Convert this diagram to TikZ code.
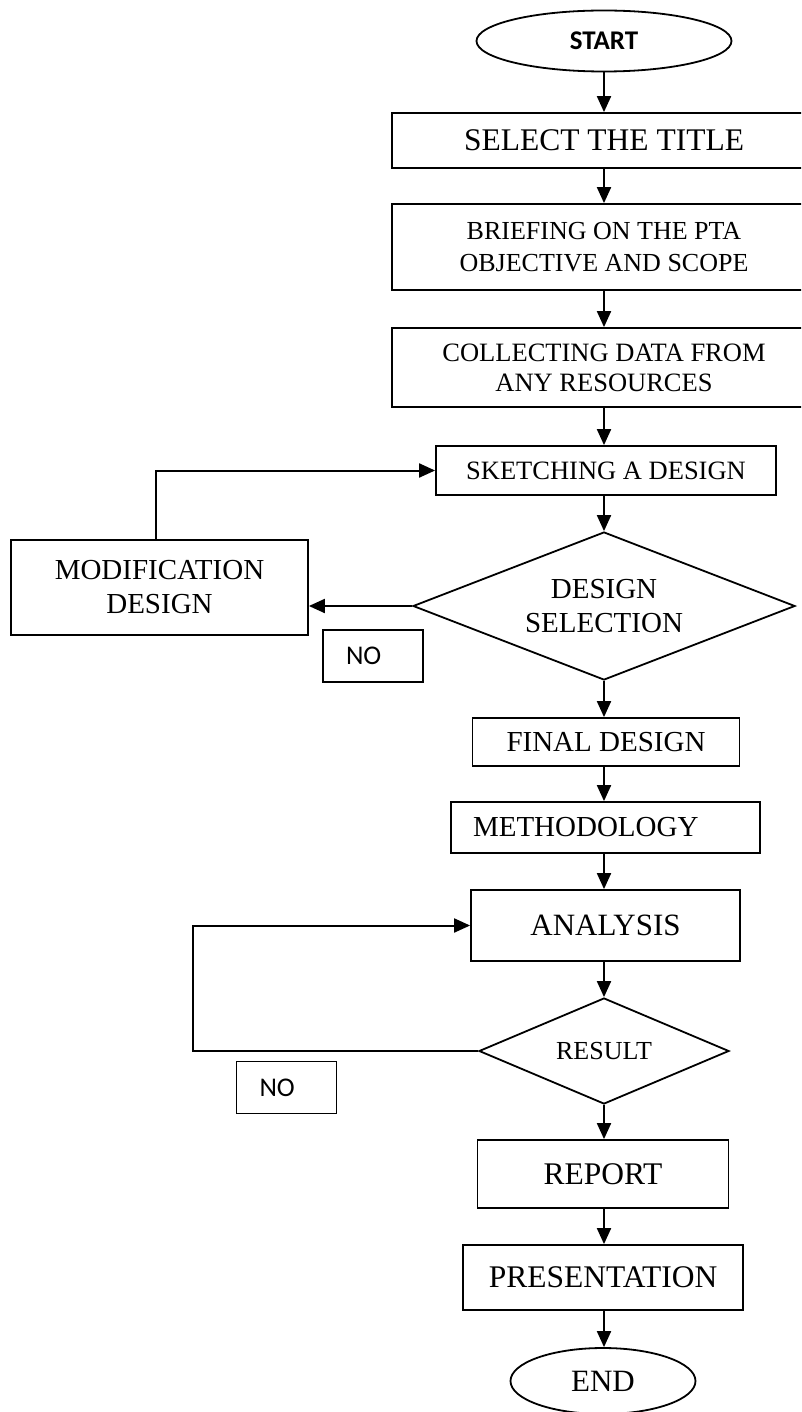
\documentclass[tikz,border=0pt]{standalone}
\usepackage{fontspec}
\setmainfont{Liberation Serif}
\newfontfamily\calfont{Carlito}
\usetikzlibrary{arrows.meta,shapes.geometric}

\begin{document}
\begin{tikzpicture}[x=1pt, y=-1pt,
		box/.style={draw, line width=1.8pt, rectangle, align=center},
		oval/.style={draw, line width=1.8pt, ellipse, inner sep=0pt},
		dmd/.style={draw, line width=1.8pt, diamond, align=center, inner sep=1pt},
		nobox/.style={draw, line width=1.8pt, text width=54, inner xsep=23, align=left,
			minimum height=52, font=\calfont\fontsize{27}{30}\selectfont},
		arr/.style={line width=2pt, -{Triangle[length=16pt,width=14pt]}}]
			%%%%% START %%%%%
			
			\useasboundingbox (0,0) rectangle (801,1412);
			\clip (0,0) rectangle (801,1412);
			
			\node[oval, minimum width=255, minimum height=61,
				font=\calfont\bfseries\fontsize{27}{30}\selectfont] (start) at (604,41) {START};
			\node[box, minimum width=424, minimum height=55,
				font=\fontsize{31.5}{36}\selectfont] (title) at (604,140.5) {SELECT THE TITLE};
			\node[box, minimum width=424, minimum height=86,
				font=\fontsize{26}{32}\selectfont] (brief) at (604,247) {BRIEFING ON THE PTA\\OBJECTIVE AND SCOPE};
			\node[box, minimum width=424, minimum height=79,
				font=\fontsize{26.5}{30}\selectfont] (collect) at (604,367.5) {COLLECTING DATA FROM\\ANY RESOURCES};
			\node[box, minimum width=340, minimum height=49,
				font=\fontsize{26.5}{30}\selectfont] (sketch) at (606,470.5) {SKETCHING A DESIGN};
			
			\node[dmd, aspect=2.58, minimum width=382, minimum height=148,
				font=\fontsize{29}{34}\selectfont] (select) at (604,606) {DESIGN\\SELECTION};
			\node[box, minimum width=297, minimum height=95,
				font=\fontsize{29}{34}\selectfont] (modify) at (159.5,587.5) {MODIFICATION\\DESIGN};
			\node[nobox] (no1) at (373,656) {NO};
			
			\node[box, minimum width=267, minimum height=48,
				font=\fontsize{29}{34}\selectfont] (final) at (606,742) {FINAL DESIGN};
			\node[box, text width=265, inner xsep=22, align=left, minimum height=51,
				font=\fontsize{29}{34}\selectfont] (method) at (605.5,827.5) {METHODOLOGY};
			\node[box, minimum width=269, minimum height=71,
				font=\fontsize{31}{36}\selectfont] (analysis) at (605.5,925.5) {ANALYSIS};
			
			\node[dmd, aspect=2.36, minimum width=250, minimum height=106,
				font=\fontsize{26}{30}\selectfont] (result) at (604,1051) {RESULT};
			\node[nobox] (no2) at (286.5,1087.5) {NO};
			
			\node[box, minimum width=251, minimum height=68,
				font=\fontsize{31.5}{36}\selectfont] (report) at (603,1174) {REPORT};
			\node[box, minimum width=280, minimum height=65,
				font=\fontsize{31.5}{36}\selectfont] (present) at (603,1277.5) {PRESENTATION};
			\node[oval, minimum width=185, minimum height=66,
				font=\fontsize{31}{36}\selectfont] (end) at (603,1381) {END};
			
			\coordinate (loopb) at (193,0);
			
			\draw[arr] (start.south -| 604,0) -- (title.north -| 604,0);
			\draw[arr] (title) -- (brief);
			\draw[arr] (brief) -- (collect);
			\draw[arr] (collect.south) -- (collect.south |- sketch.north);
			\draw[arr] (sketch.south -| select.north) -- (select.north);
			\draw[arr] (select.west) -- (select.west -| modify.east);
			\draw[arr] ([xshift=-4pt]modify.north) |- (sketch.west);
			\draw[arr] (select.south) -- (select.south |- final.north);
			\draw[arr] (final.south -| 604,0) -- (method.north -| 604,0);
			\draw[arr] (method.south -| 604,0) -- (analysis.north -| 604,0);
			\draw[arr] (analysis.south -| 604,0) -- (result.north);
			\draw[arr] (result.west) -- (result.west -| loopb) |- (analysis.west);
			\draw[arr] (result.south) -- (result.south |- report.north);
			\draw[arr] (report.south -| 604,0) -- (present.north -| 604,0);
			\draw[arr] (present.south -| 604,0) -- (end.north -| 604,0);
			
			%%%%% END %%%%%
		\end{tikzpicture}
\end{document}
